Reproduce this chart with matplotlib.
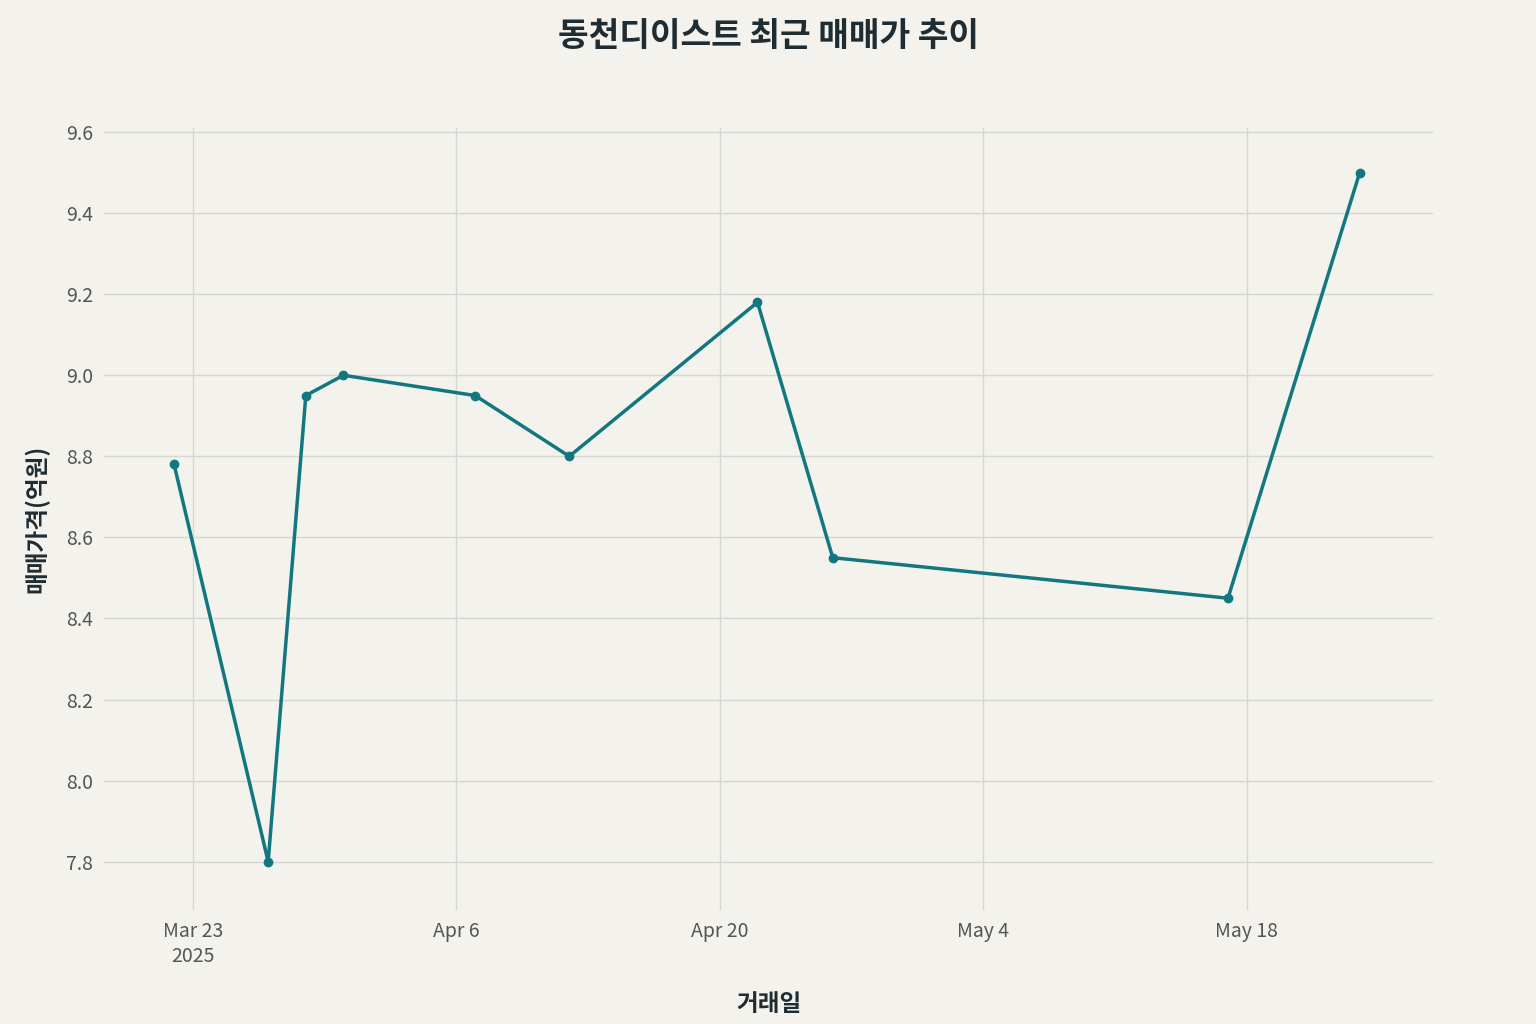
import matplotlib.pyplot as plt
import matplotlib.dates as mdates
import pandas as pd

plt.rcParams['font.family'] = ['Noto Sans CJK KR', 'DejaVu Sans']

dates = pd.to_datetime(['2025-03-22', '2025-03-27', '2025-03-29', '2025-03-31', '2025-04-07',
                        '2025-04-12', '2025-04-22', '2025-04-26', '2025-05-17', '2025-05-24'])
prices = [8.78, 7.8, 8.95, 9.0, 8.95, 8.8, 9.18, 8.55, 8.45, 9.5]
tick_dates = pd.to_datetime(['2025-03-23', '2025-04-06', '2025-04-20', '2025-05-04', '2025-05-18'])
tick_labels = ['Mar 23\n2025', 'Apr 6', 'Apr 20', 'May 4', 'May 18']

bg = '#f3f2ec'
fig = plt.figure(figsize=(15.36, 10.24), dpi=100, facecolor=bg)
ax = fig.add_axes([0.068, 0.111, 0.865, 0.764], facecolor=bg)

ax.plot(dates, prices, color='#13777f', linewidth=2.5, marker='o', markersize=6)

ax.set_xlim(pd.Timestamp('2025-03-23') - pd.Timedelta(days=4.7), pd.Timestamp('2025-03-23') + pd.Timedelta(days=65.9))
ax.set_ylim(7.68, 9.61)
ax.set_xticks(tick_dates)
ax.set_xticklabels(tick_labels)
ax.set_yticks([7.8, 8.0, 8.2, 8.4, 8.6, 8.8, 9.0, 9.2, 9.4, 9.6])
ax.yaxis.set_major_formatter(plt.FormatStrFormatter('%.1f'))
ax.grid(color='#d6d6d3', linewidth=1)
for s in ax.spines.values():
    s.set_visible(False)
ax.tick_params(length=0, labelsize=14, colors='#555555', pad=8)

ax.set_xlabel('거래일', fontsize=17, fontweight='bold', color='#1f2d33', labelpad=18)
ax.set_ylabel('매매가격(억원)', fontsize=17, fontweight='bold', color='#1f2d33', labelpad=12)
fig.suptitle('동천디이스트 최근 매매가 추이', fontsize=24, fontweight='bold', color='#1f2d33', y=0.98)

fig.savefig('out.png', dpi=100, facecolor=bg)
